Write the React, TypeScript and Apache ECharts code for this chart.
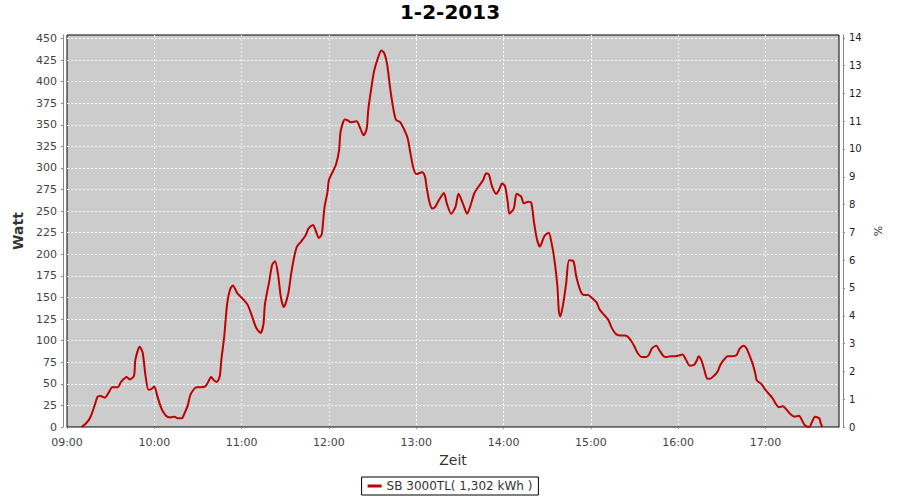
import React, { useEffect, useRef } from "react";
import * as echarts from "echarts";

const chartTitle = "1-2-2013";
const seriesName = "SB 3000TL( 1,302 kWh )";

const times = [
  "09:10","09:13","09:16","09:19","09:21","09:23","09:26","09:29","09:31","09:35","09:37","09:41","09:43","09:46","09:47","09:50","09:52","09:54","09:56","09:58",
  "10:00","10:02","10:05","10:08","10:11","10:14","10:16","10:19","10:20","10:23","10:25","10:29","10:32","10:35","10:37","10:39","10:41","10:43","10:45","10:46","10:48","10:50","10:52","10:54","10:57",
  "11:01","11:04","11:07","11:10","11:13","11:15","11:16","11:19","11:21","11:23","11:25","11:27","11:29","11:32","11:34","11:36","11:38","11:41","11:44","11:46","11:49","11:51","11:53","11:55","11:56","11:57","11:59",
  "12:00","12:03","12:05","12:07","12:08","12:11","12:13","12:15","12:19","12:21","12:23","12:24","12:26","12:27","12:29","12:31","12:34","12:36","12:38","12:40","12:42","12:44","12:46","12:49","12:51","12:54","12:56","12:58",
  "13:00","13:04","13:06","13:07","13:09","13:11","13:13","13:16","13:19","13:21","13:24","13:27","13:29","13:32","13:35","13:37","13:40","13:43","13:46","13:48","13:50","13:52","13:55","13:57","13:59",
  "14:01","14:03","14:04","14:07","14:09","14:12","14:14","14:17","14:19","14:21","14:23","14:25","14:28","14:31","14:33","14:35","14:37","14:38","14:39","14:41","14:43","14:45","14:48","14:50","14:53","14:55","14:58",
  "15:01","15:04","15:06","15:09","15:12","15:14","15:17","15:20","15:23","15:25","15:28","15:30","15:32","15:35","15:38","15:40","15:42","15:45","15:47","15:50","15:52","15:55","15:58",
  "16:01","16:03","16:05","16:08","16:11","16:13","16:14","16:16","16:18","16:20","16:22","16:25","16:27","16:29","16:31","16:34","16:37","16:40","16:42","16:45","16:47","16:49","16:51","16:53","16:54","16:57",
  "17:00","17:02","17:05","17:07","17:09","17:12","17:14","17:17","17:20","17:23","17:25","17:27","17:30","17:32","17:34","17:37","17:38","17:39",
];

const watts = [
  0,4,11,25,35,36,34,41,46,46,52,58,55,59,78,93,86,59,43,44,
  47,36,21,13,11,12,10,10,13,25,38,46,46,47,52,58,54,52,59,77,104,142,159,164,155,
  148,142,129,115,109,119,142,169,188,192,177,150,139,154,177,196,209,215,222,230,234,227,219,223,238,255,272,
  286,297,305,321,342,356,355,353,354,348,340,338,346,367,391,412,429,436,433,420,393,371,356,353,347,335,317,300,
  293,295,290,279,261,253,255,264,271,259,247,255,270,259,247,255,271,279,286,294,292,279,270,275,282,
  279,259,247,253,270,267,259,261,260,236,217,209,221,225,213,193,163,134,128,143,166,193,192,174,157,153,153,
  149,144,136,130,124,116,108,106,106,105,99,93,86,81,81,84,91,94,89,82,81,82,82,
  83,84,79,71,72,78,82,77,66,56,56,60,64,72,77,82,82,83,90,94,91,83,74,62,54,50,
  43,39,33,27,23,24,21,15,12,13,8,2,0,6,12,10,4,0,
];

const xStart = "09:00";
const xEnd = "17:50:30";
const wattMax = 454;
const percentMax = 14.1;

function toMinutes(s: string): number {
  const p = s.split(":").map(Number);
  return p[0] * 60 + p[1] + (p[2] || 0) / 60;
}

const FONT = "DejaVu Sans";

export default function App() {
  const ref = useRef<HTMLDivElement>(null);
  useEffect(() => {
    document.body.style.margin = "0";
    const chart = echarts.init(ref.current!, null, { renderer: "svg" });
    const n = Math.min(times.length, watts.length);
    const data: [number, number][] = [];
    for (let i = 0; i < n; i++) data.push([toMinutes(times[i]), watts[i]]);
    const pad = (v: number) => (v < 10 ? "0" + v : String(v));
    const gridLine = {
      show: true,
      showMinLine: false,
      showMaxLine: false,
      lineStyle: { color: "#ffffff", width: 1, type: [2, 2] },
    };
    chart.setOption({
      animation: false,
      backgroundColor: "#ffffff",
      textStyle: { fontFamily: FONT },
      title: {
        text: chartTitle,
        left: "center",
        top: 2,
        padding: 0,
        textStyle: { fontFamily: FONT, fontSize: 20, fontWeight: "bold", color: "#000" },
      },
      legend: {
        left: "center",
        top: 477,
        padding: [3, 6],
        borderColor: "#000",
        borderWidth: 1,
        backgroundColor: "#fff",
        borderRadius: 0,
        itemWidth: 14,
        itemHeight: 3,
        itemGap: 4,
        icon: "rect",
        textStyle: { fontFamily: FONT, fontSize: 12, color: "#333" },
        data: [seriesName],
      },
      grid: {
        left: 67,
        right: 61,
        top: 35,
        bottom: 73,
        show: true,
        backgroundColor: "#cccccc",
        borderColor: "#000",
        borderWidth: 1,
        containLabel: false,
      },
      xAxis: {
        type: "value",
        min: toMinutes(xStart),
        max: toMinutes(xEnd),
        interval: 60,
        offset: 5,
        name: "Zeit",
        nameLocation: "middle",
        nameGap: 21,
        nameTextStyle: { fontFamily: FONT, fontSize: 14, color: "#333" },
        axisLine: { show: true, lineStyle: { color: "#888", width: 1 } },
        axisTick: { show: true, length: 2, lineStyle: { color: "#888" } },
        axisLabel: {
          margin: 5,
          fontFamily: FONT,
          fontSize: 11,
          color: "#444",
          showMaxLabel: false,
          formatter: (v: number) => pad(Math.floor(v / 60)) + ":00",
        },
        splitLine: gridLine,
      },
      yAxis: [
        {
          type: "value",
          min: 0,
          max: wattMax,
          interval: 25,
          position: "left",
          offset: 4,
          name: "Watt",
          nameLocation: "middle",
          nameGap: 34,
          nameTextStyle: { fontFamily: FONT, fontSize: 14, fontWeight: "bold", color: "#333" },
          axisLine: { show: true, lineStyle: { color: "#888", width: 1 } },
          axisTick: { show: true, length: 2, lineStyle: { color: "#888" } },
          axisLabel: { margin: 6, fontFamily: FONT, fontSize: 11, color: "#444", showMaxLabel: false },
          splitLine: gridLine,
        },
        {
          type: "value",
          min: 0,
          max: percentMax,
          interval: 1,
          position: "right",
          offset: 4,
          name: "%",
          nameLocation: "middle",
          nameGap: 22,
          nameTextStyle: { fontFamily: FONT, fontSize: 11, color: "#333" },
          axisLine: { show: true, lineStyle: { color: "#888", width: 1 } },
          axisTick: { show: true, length: 2, lineStyle: { color: "#888" } },
          axisLabel: { margin: 6, fontFamily: FONT, fontSize: 10, color: "#222", showMaxLabel: false },
          splitLine: { show: false },
        },
      ],
      series: [
        {
          name: seriesName,
          type: "line",
          yAxisIndex: 0,
          data,
          showSymbol: false,
          symbol: "none",
          smooth: 0.25,
          lineStyle: { color: "#c00000", width: 2 },
          itemStyle: { color: "#c00000" },
        },
      ],
    });
    return () => chart.dispose();
  }, []);
  return <div ref={ref} style={{ width: 900, height: 500 }} />;
}
